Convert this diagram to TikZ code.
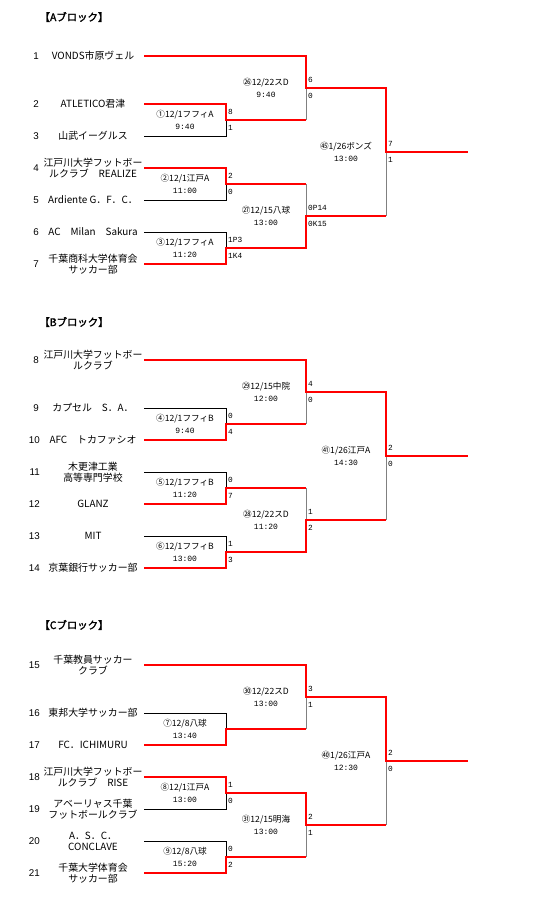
\documentclass[tikz,border=0pt]{standalone}
\usepackage{fontspec}
\setmainfont{Noto Sans CJK JP}
\newfontfamily\jp{Noto Sans CJK JP}
\newfontfamily\jpb[FakeBold=2]{Noto Sans CJK JP}
\newfontfamily\lsans{Liberation Sans}
\newfontfamily\lmono{Liberation Mono}
\definecolor{lgrey}{HTML}{808080}
\newcommand\tm[1]{{\lmono\fontsize{8}{11.5}\selectfont #1}}
\begin{document}
\begin{tikzpicture}[x=1pt,y=-1pt,
  win/.style={draw=red,line width=2.8pt,line join=miter},
  ln/.style={draw=black,line width=0.9pt},
  gl/.style={draw=lgrey,line width=0.9pt},
  team/.style={font=\jp\fontsize{9.9}{11}\selectfont,align=center,inner sep=0pt},
  num/.style={font=\lsans\fontsize{9.8}{11}\selectfont,anchor=east,inner sep=0pt},
  mlab/.style={font=\jp\fontsize{8.6}{11.5}\selectfont,align=center,inner sep=0pt},
  sc/.style={font=\lmono\fontsize{7.8}{8}\selectfont,anchor=west,inner sep=0pt},
  ttl/.style={font=\jpb\fontsize{10.4}{11}\selectfont,inner sep=0pt}]
\useasboundingbox (0,0) rectangle (554,906);
\fill[white] (0,0) rectangle (554,906);

% ================= Block A =================
\node[ttl] (titleA) at (74,17) {【Aブロック】};
\coordinate (T1) at (144,56);
\coordinate (T2) at (144,104);
\coordinate (T3) at (144,136);
\coordinate (T4) at (144,168);
\coordinate (T5) at (144,200);
\coordinate (T6) at (144,232);
\coordinate (T7) at (144,264);
\coordinate (M1) at (226,120);
\coordinate (M2) at (226,184);
\coordinate (M3) at (226,248);
\coordinate (Q26) at (306,88);
\coordinate (Q27) at (306,216);
\coordinate (FA) at (386,152);
\coordinate (EA) at (468,152);

\node[num] (k1) at (39,56) {1};
\node[num] (k2) at (39,104) {2};
\node[num] (k3) at (39,136) {3};
\node[num] (k4) at (39,168) {4};
\node[num] (k5) at (39,200) {5};
\node[num] (k6) at (39,232) {6};
\node[num] (k7) at (39,264) {7};
\node[team] (n1) at (93,56) {VONDS市原ヴェル};
\node[team] (n2) at (93,104) {ATLETICO君津};
\node[team] (n3) at (93,136) {山武イーグルス};
\node[team] (n4) at (93,168) {江戸川大学フットボー\\ルクラブ　REALIZE};
\node[team] (n5) at (93,200) {Ardiente G．F．C．};
\node[team] (n6) at (93,232) {AC　Milan　Sakura};
\node[team] (n7) at (93,264) {千葉商科大学体育会\\サッカー部};

\draw[ln] (T3) -| (M1);
\draw[ln] (T5) -| (M2);
\draw[ln] (T6) -| (M3);
\draw[gl] (M1 -| Q26) -- (Q26);
\draw[gl] (M2 -| Q27) -- (Q27);
\draw[gl] (Q27 -| FA) -- (FA);
\draw[win] (T1) -| (Q26) -| (FA) -- (EA);
\draw[win] (T2) -| (M1) -- (M1 -| Q26);
\draw[win] (T4) -| (M2) -- (M2 -| Q27);
\draw[win] (T7) -| (M3) -| (Q27) -- (Q27 -| FA);

\node[mlab] (l1) at (185,120) {①12/1フフィA\\\tm{9:40}};
\node[mlab] (l2) at (185,184) {②12/1江戸A\\\tm{11:00}};
\node[mlab] (l3) at (185,248) {③12/1フフィA\\\tm{11:20}};
\node[mlab] (l26) at (266,88) {㉖12/22スD\\\tm{9:40}};
\node[mlab] (l27) at (266,216) {㉗12/15八球\\\tm{13:00}};
\node[mlab] (lA) at (346,152) {㊺1/26ボンズ\\\tm{13:00}};

\node[sc] (s1a) at ([xshift=2pt,yshift=8pt]M1) {8};
\node[sc] (s1b) at ([xshift=2pt,yshift=-8pt]M1) {1};
\node[sc] (s2a) at ([xshift=2pt,yshift=8pt]M2) {2};
\node[sc] (s2b) at ([xshift=2pt,yshift=-8pt]M2) {0};
\node[sc] (s3a) at ([xshift=2pt,yshift=8pt]M3) {1P3};
\node[sc] (s3b) at ([xshift=2pt,yshift=-8pt]M3) {1K4};
\node[sc] (s26a) at ([xshift=2pt,yshift=8pt]Q26) {6};
\node[sc] (s26b) at ([xshift=2pt,yshift=-8pt]Q26) {0};
\node[sc] (s27a) at ([xshift=2pt,yshift=8pt]Q27) {0P14};
\node[sc] (s27b) at ([xshift=2pt,yshift=-8pt]Q27) {0K15};
\node[sc] (sAa) at ([xshift=2pt,yshift=8pt]FA) {7};
\node[sc] (sAb) at ([xshift=2pt,yshift=-8pt]FA) {1};

% ================= Block B =================
\node[ttl] (titleB) at (74,322) {【Bブロック】};
\coordinate (T8) at (144,360);
\coordinate (T9) at (144,408);
\coordinate (T10) at (144,440);
\coordinate (T11) at (144,472);
\coordinate (T12) at (144,504);
\coordinate (T13) at (144,536);
\coordinate (T14) at (144,568);
\coordinate (M4) at (226,424);
\coordinate (M5) at (226,488);
\coordinate (M6) at (226,552);
\coordinate (Q29) at (306,392);
\coordinate (Q28) at (306,520);
\coordinate (FB) at (386,456);
\coordinate (EB) at (468,456);

\node[num] (k8) at (39,360) {8};
\node[num] (k9) at (39,408) {9};
\node[num] (k10) at (40,440) {10};
\node[num] (k11) at (40,472) {11};
\node[num] (k12) at (40,504) {12};
\node[num] (k13) at (40,536) {13};
\node[num] (k14) at (40,568) {14};
\node[team] (n8) at (93,360) {江戸川大学フットボー\\ルクラブ};
\node[team] (n9) at (93,408) {カプセル　S．A．};
\node[team] (n10) at (93,440) {AFC　トカファシオ};
\node[team] (n11) at (93,472) {木更津工業\\高等専門学校};
\node[team] (n12) at (93,504) {GLANZ};
\node[team] (n13) at (93,536) {MIT};
\node[team] (n14) at (93,568) {京葉銀行サッカー部};

\draw[ln] (T9) -| (M4);
\draw[ln] (T11) -| (M5);
\draw[ln] (T13) -| (M6);
\draw[gl] (M4 -| Q29) -- (Q29);
\draw[gl] (M5 -| Q28) -- (Q28);
\draw[gl] (Q28 -| FB) -- (FB);
\draw[win] (T8) -| (Q29) -| (FB) -- (EB);
\draw[win] (T10) -| (M4) -- (M4 -| Q29);
\draw[win] (T12) -| (M5) -- (M5 -| Q28);
\draw[win] (T14) -| (M6) -| (Q28) -- (Q28 -| FB);

\node[mlab] (l4) at (185,424) {④12/1フフィB\\\tm{9:40}};
\node[mlab] (l5) at (185,488) {⑤12/1フフィB\\\tm{11:20}};
\node[mlab] (l6) at (185,552) {⑥12/1フフィB\\\tm{13:00}};
\node[mlab] (l29) at (266,392) {㉙12/15中院\\\tm{12:00}};
\node[mlab] (l28) at (266,520) {㉘12/22スD\\\tm{11:20}};
\node[mlab] (lB) at (346,456) {㊶1/26江戸A\\\tm{14:30}};

\node[sc] (s4a) at ([xshift=2pt,yshift=8pt]M4) {0};
\node[sc] (s4b) at ([xshift=2pt,yshift=-8pt]M4) {4};
\node[sc] (s5a) at ([xshift=2pt,yshift=8pt]M5) {0};
\node[sc] (s5b) at ([xshift=2pt,yshift=-8pt]M5) {7};
\node[sc] (s6a) at ([xshift=2pt,yshift=8pt]M6) {1};
\node[sc] (s6b) at ([xshift=2pt,yshift=-8pt]M6) {3};
\node[sc] (s29a) at ([xshift=2pt,yshift=8pt]Q29) {4};
\node[sc] (s29b) at ([xshift=2pt,yshift=-8pt]Q29) {0};
\node[sc] (s28a) at ([xshift=2pt,yshift=8pt]Q28) {1};
\node[sc] (s28b) at ([xshift=2pt,yshift=-8pt]Q28) {2};
\node[sc] (sBa) at ([xshift=2pt,yshift=8pt]FB) {2};
\node[sc] (sBb) at ([xshift=2pt,yshift=-8pt]FB) {0};

% ================= Block C =================
\node[ttl] (titleC) at (74,625) {【Cブロック】};
\coordinate (T15) at (144,665);
\coordinate (T16) at (144,713);
\coordinate (T17) at (144,745);
\coordinate (T18) at (144,777);
\coordinate (T19) at (144,809);
\coordinate (T20) at (144,841);
\coordinate (T21) at (144,873);
\coordinate (M7) at (226,729);
\coordinate (M8) at (226,793);
\coordinate (M9) at (226,857);
\coordinate (Q30) at (306,697);
\coordinate (Q31) at (306,825);
\coordinate (FC) at (386,761);
\coordinate (EC) at (468,761);

\node[num] (k15) at (40,665) {15};
\node[num] (k16) at (40,713) {16};
\node[num] (k17) at (40,745) {17};
\node[num] (k18) at (40,777) {18};
\node[num] (k19) at (40,809) {19};
\node[num] (k20) at (40,841) {20};
\node[num] (k21) at (40,873) {21};
\node[team] (n15) at (93,665) {千葉教員サッカー\\クラブ};
\node[team] (n16) at (93,713) {東邦大学サッカー部};
\node[team] (n17) at (93,745) {FC．ICHIMURU};
\node[team] (n18) at (93,777) {江戸川大学フットボー\\ルクラブ　RISE};
\node[team] (n19) at (93,809) {アベーリャス千葉\\フットボールクラブ};
\node[team] (n20) at (93,841) {A．S．C．\\CONCLAVE};
\node[team] (n21) at (93,873) {千葉大学体育会\\サッカー部};

\draw[ln] (T16) -| (M7);
\draw[ln] (T19) -| (M8);
\draw[ln] (T20) -| (M9);
\draw[gl] (M7 -| Q30) -- (Q30);
\draw[gl] (M9 -| Q31) -- (Q31);
\draw[gl] (Q31 -| FC) -- (FC);
\draw[win] (T15) -| (Q30) -| (FC) -- (EC);
\draw[win] (T17) -| (M7) -- (M7 -| Q30);
\draw[win] (T18) -| (M8) -| (Q31) -- (Q31 -| FC);
\draw[win] (T21) -| (M9) -- (M9 -| Q31);

\node[mlab] (l7) at (185,729) {⑦12/8八球\\\tm{13:40}};
\node[mlab] (l8) at (185,793) {⑧12/1江戸A\\\tm{13:00}};
\node[mlab] (l9) at (185,857) {⑨12/8八球\\\tm{15:20}};
\node[mlab] (l30) at (266,697) {㉚12/22スD\\\tm{13:00}};
\node[mlab] (l31) at (266,825) {㉛12/15明海\\\tm{13:00}};
\node[mlab] (lC) at (346,761) {㊵1/26江戸A\\\tm{12:30}};

\node[sc] (s8a) at ([xshift=2pt,yshift=8pt]M8) {1};
\node[sc] (s8b) at ([xshift=2pt,yshift=-8pt]M8) {0};
\node[sc] (s9a) at ([xshift=2pt,yshift=8pt]M9) {0};
\node[sc] (s9b) at ([xshift=2pt,yshift=-8pt]M9) {2};
\node[sc] (s30a) at ([xshift=2pt,yshift=8pt]Q30) {3};
\node[sc] (s30b) at ([xshift=2pt,yshift=-8pt]Q30) {1};
\node[sc] (s31a) at ([xshift=2pt,yshift=8pt]Q31) {2};
\node[sc] (s31b) at ([xshift=2pt,yshift=-8pt]Q31) {1};
\node[sc] (sCa) at ([xshift=2pt,yshift=8pt]FC) {2};
\node[sc] (sCb) at ([xshift=2pt,yshift=-8pt]FC) {0};
\end{tikzpicture}
\end{document}
